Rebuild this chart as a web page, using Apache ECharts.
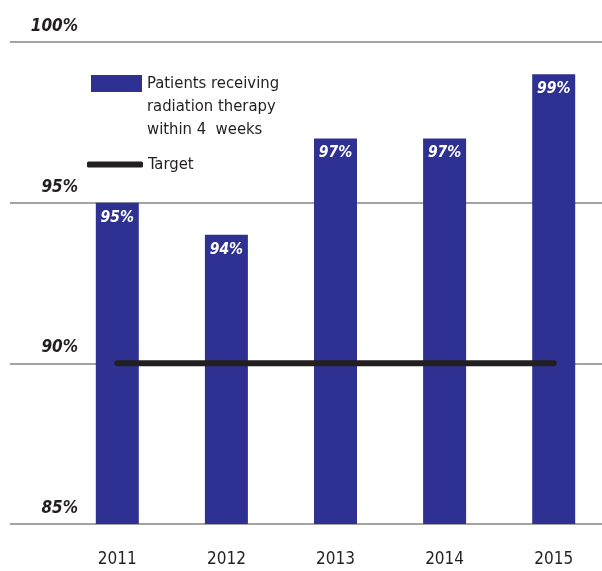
<!DOCTYPE html>
<html>
<head>
<meta charset="utf-8">
<script src="https://cdn.jsdelivr.net/npm/echarts@6/dist/echarts.min.js"></script>
<style>
  html, body { margin: 0; padding: 0; background: #fff; }
  #chart { width: 602px; height: 571px; }
</style>
</head>
<body>
<div id="chart"></div>
<script>
// Yearly share of patients starting radiation therapy within 4 weeks
const years = ['2011', '2012', '2013', '2014', '2015'];
const patientsPct = [95, 94, 97, 97, 99];
const targetPct = [90, 90, 90, 90, 90];
const yTicks = [85, 90, 95, 100];

const seriesName = 'Patients receiving\nradiation therapy\nwithin 4  weeks';
const targetName = 'Target';

const FONT = "'DejaVu Sans Condensed', 'Liberation Sans Narrow', sans-serif";
const INK = '#231f20';
const BLUE = '#2e3192';

const chart = echarts.init(document.getElementById('chart'), null, { renderer: 'canvas' });

chart.setOption({
  animation: false,
  backgroundColor: '#ffffff',
  textStyle: { fontFamily: FONT },
  grid: [
    // full-width frame carrying the horizontal rules and percent labels
    { left: 10, right: 0, top: 42, bottom: 47, outerBoundsMode: 'none' },
    // plotting area for the bars and the target line; runs slightly past the right edge
    { left: 62.75, width: 545.5, top: 42, bottom: 47, outerBoundsMode: 'none' }
  ],
  xAxis: [
    { gridIndex: 0, type: 'category', data: years, show: false },
    {
      gridIndex: 1,
      type: 'category',
      data: years,
      axisLine: { show: false },
      axisTick: { show: false },
      axisLabel: { color: INK, fontSize: 17, fontFamily: FONT, margin: 27 }
    }
  ],
  yAxis: [
    {
      gridIndex: 0,
      type: 'value',
      min: yTicks[0],
      max: yTicks[yTicks.length - 1],
      interval: 5,
      axisLine: { show: false },
      axisTick: { show: false },
      splitLine: { lineStyle: { color: '#a3a3a3', width: 2 } },
      axisLabel: {
        inside: true,
        margin: 68,
        align: 'right',
        verticalAlign: 'bottom',
        padding: [0, 0, 7, 0],
        color: INK,
        fontFamily: FONT,
        fontSize: 17,
        fontStyle: 'italic',
        fontWeight: 'bold',
        formatter: v => v + '%'
      }
    },
    {
      gridIndex: 1,
      type: 'value',
      min: yTicks[0],
      max: yTicks[yTicks.length - 1],
      interval: 5,
      show: false,
      splitLine: { show: false }
    }
  ],
  legend: [
    {
      data: [{ name: seriesName, icon: 'rect' }],
      selectedMode: false,
      left: 91,
      top: 26,
      padding: 0,
      itemWidth: 51,
      itemHeight: 17,
      // two leading blank lines keep the first text line level with the swatch
      formatter: name => '\n\n' + name,
      textStyle: {
        color: INK,
        fontFamily: FONT,
        fontSize: 16.5,
        lineHeight: 23
      }
    },
    {
      data: [{ name: targetName, icon: 'roundRect' }],
      selectedMode: false,
      left: 87,
      top: 153,
      padding: 0,
      itemWidth: 56,
      itemHeight: 6,
      textStyle: { color: INK, fontFamily: FONT, fontSize: 16.5, lineHeight: 23 }
    }
  ],
  series: [
    {
      name: seriesName,
      type: 'bar',
      xAxisIndex: 1,
      yAxisIndex: 1,
      data: patientsPct,
      barWidth: 43,
      itemStyle: { color: BLUE },
      label: {
        show: true,
        position: 'insideTop',
        distance: 7,
        color: '#ffffff',
        fontFamily: FONT,
        fontSize: 15.5,
        fontStyle: 'italic',
        fontWeight: 'bold',
        formatter: p => p.value + '%'
      }
    },
    {
      name: targetName,
      type: 'line',
      xAxisIndex: 1,
      yAxisIndex: 1,
      data: targetPct,
      symbol: 'none',
      z: 5,
      lineStyle: { color: INK, width: 6, cap: 'round' },
      itemStyle: { color: INK }
    }
  ]
});
</script>
</body>
</html>
